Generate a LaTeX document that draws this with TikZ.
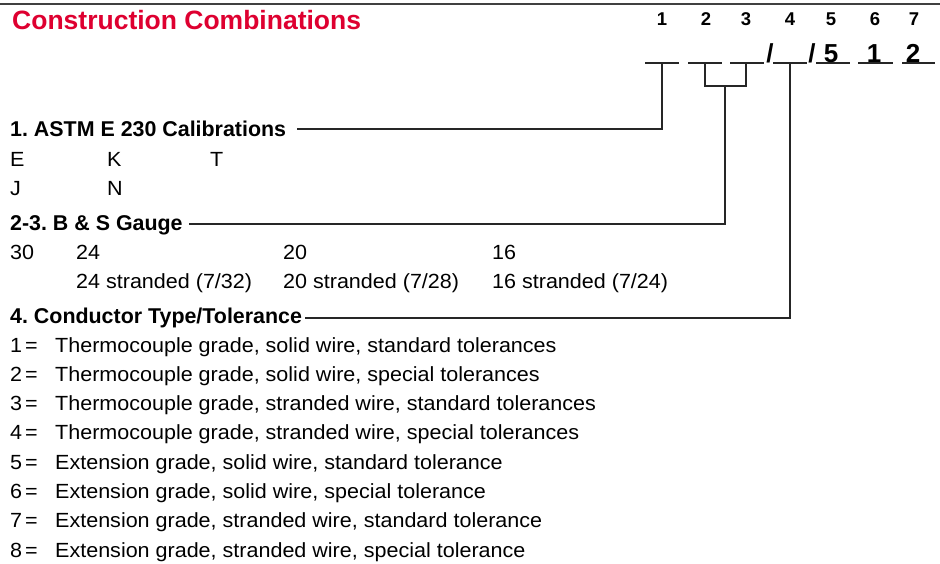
\documentclass[tikz,border=0pt]{standalone}
\usepackage{fontspec}
\setmainfont{Liberation Sans}
\newfontfamily\lightfont[FakeStretch=1.05]{Liberation Sans}
\definecolor{titlered}{RGB}{222,0,48}
\frenchspacing
\begin{document}
\begin{tikzpicture}[x=1pt,y=-1pt,
  txt/.style={anchor=base west,inner sep=0pt,font=\lightfont\fontsize{20.5}{24}\selectfont},
  head/.style={anchor=base west,inner sep=0pt,font=\fontsize{21.4}{26}\selectfont\bfseries},
  colnum/.style={anchor=base,inner sep=0pt,font=\fontsize{18.5}{20}\selectfont\bfseries},
  codechar/.style={anchor=base,inner sep=0pt,font=\fontsize{26}{30}\selectfont\bfseries},
  conn/.style={line width=1.3pt,black!85},
  blankline/.style={line width=1.2pt,black!85}]
\useasboundingbox (0,0) rectangle (940,563);
\draw[line width=1.6pt,black!75] (0,4) -- (940,4);
\node[anchor=base west,inner sep=0pt,text=titlered,font=\fontsize{26.5}{30}\selectfont\bfseries] (title) at (12,29) {Construction Combinations};
% column numbers
\foreach \n/\x in {1/662,2/706,3/746,4/790,5/831,6/875,7/914}
  \node[colnum] (c\n) at (\x,25) {\n};
% blanks
\foreach \n/\a/\b in {1/645/679,2/688/722,3/730/764,4/773/807,5/816/850,6/858/893,7/902/935}
  {\coordinate (bl\n) at (\a,63); \coordinate (br\n) at (\b,63); \draw[blankline] (bl\n) -- (br\n);}
\coordinate (k1) at (662,63);
\coordinate (k2) at (705,63);
\coordinate (k3) at (746,63);
\coordinate (k4) at (790,63);
\coordinate (m23) at (725,86);
% code characters
\node[codechar] (s1) at (770,62) {/};
\node[codechar] (s2) at (812,62) {/};
\node[codechar] (d5) at (831,62) {5};
\node[codechar] (d6) at (874,62) {1};
\node[codechar] (d7) at (913,62) {2};
% section 1
\node[head] (h1) at (10,136) {1. ASTM E 230 Calibrations};
\draw[conn] (k1) |- ([shift={(11,-7)}]h1.base east);
\node[txt] (cE) at (10,166) {E};
\node[txt] (cK) at (107,166) {K};
\node[txt] (cT) at (210,166) {T};
\node[txt] (cJ) at (10,195) {J};
\node[txt] (cN) at (107,195) {N};
% section 2-3
\node[head] (h23) at (10,230) {2-3. B \& S Gauge};
\draw[conn] (k2) |- (m23) -| (k3);
\draw[conn] (m23) |- ([shift={(6,-6)}]h23.base east);
\node[txt] (g30) at (10,259) {30};
\node[txt] (g24) at (76,259) {24};
\node[txt] (g20) at (283,259) {20};
\node[txt] (g16) at (492,259) {16};
\node[txt] (s24) at (76,288) {24 stranded (7/32)};
\node[txt] (s20) at (283,288) {20 stranded (7/28)};
\node[txt] (s16) at (492,288) {16 stranded (7/24)};
% section 4
\node[head] (h4) at (10,323) {4. Conductor Type/Tolerance};
\draw[conn] (k4) |- ([shift={(3,-5)}]h4.base east);
\foreach \i/\t in {1/Thermocouple grade{,} solid wire{,} standard tolerances,
                   2/Thermocouple grade{,} solid wire{,} special tolerances,
                   3/Thermocouple grade{,} stranded wire{,} standard tolerances,
                   4/Thermocouple grade{,} stranded wire{,} special tolerances,
                   5/Extension grade{,} solid wire{,} standard tolerance,
                   6/Extension grade{,} solid wire{,} special tolerance,
                   7/Extension grade{,} stranded wire{,} standard tolerance,
                   8/Extension grade{,} stranded wire{,} special tolerance}
{
  \pgfmathsetmacro{\yy}{352+29.3*(\i-1)}
  \node[txt] (n\i) at (10,\yy) {\i};
  \node[txt] (e\i) at (25,\yy) {=};
  \node[txt] (t\i) at (55,\yy) {\t};
}
\end{tikzpicture}
\end{document}
